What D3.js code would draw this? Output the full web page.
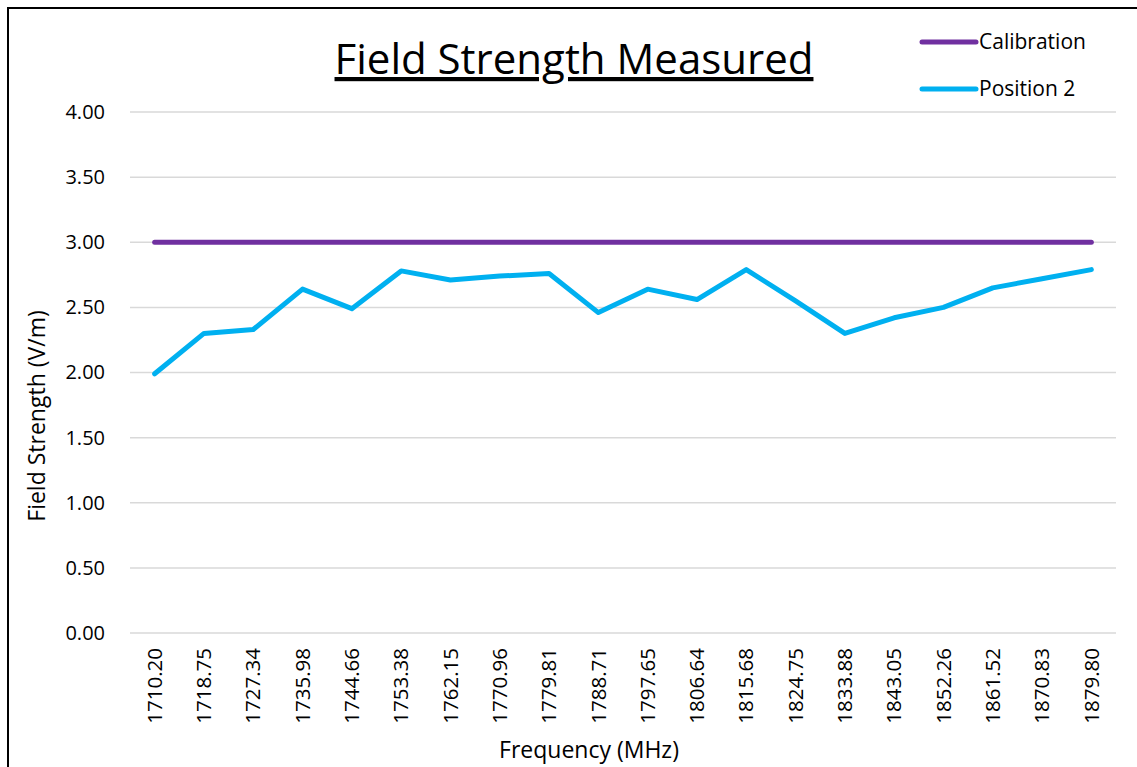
<!DOCTYPE html>
<html>
<head>
<meta charset="utf-8">
<script src="https://cdn.jsdelivr.net/npm/d3@7"></script>
<style>
  body { margin: 0; background: #fff; }
  text { font-family: "Open Sans", "Noto Sans", sans-serif; fill: #000; }
</style>
</head>
<body>
<div id="chart"></div>
<script>
// data
const frequencies = ["1710.20", "1718.75", "1727.34", "1735.98", "1744.66", "1753.38", "1762.15",
    "1770.96", "1779.81", "1788.71", "1797.65", "1806.64", "1815.68", "1824.75", "1833.88",
    "1843.05", "1852.26", "1861.52", "1870.83", "1879.80"];
const calibration = [3.00, 3.00, 3.00, 3.00, 3.00, 3.00, 3.00, 3.00, 3.00, 3.00,
    3.00, 3.00, 3.00, 3.00, 3.00, 3.00, 3.00, 3.00, 3.00, 3.00];
const position2 = [1.99, 2.30, 2.33, 2.64, 2.49, 2.78, 2.71, 2.74, 2.76, 2.46,
    2.64, 2.56, 2.79, 2.55, 2.30, 2.42, 2.50, 2.65, 2.72, 2.79];
const yTicks = [0, 0.5, 1, 1.5, 2, 2.5, 3, 3.5, 4];

const series = [
    { name: "Calibration", values: calibration, color: "#7030A0" },
    { name: "Position 2", values: position2, color: "#00B0F0" }
];

const width = 1137;
const height = 767;
const margin = { left: 130, right: 21, top: 112, bottom: 134 };

const svg = d3.select("#chart").append("svg")
    .attr("width", width)
    .attr("height", height);

// chart frame (runs past the right and bottom edge)
svg.append("rect")
    .attr("x", 8).attr("y", 8)
    .attr("width", 1150).attr("height", 780)
    .attr("fill", "none")
    .attr("stroke", "#000")
    .attr("stroke-width", 2);

const x = d3.scaleBand()
    .domain(frequencies)
    .range([margin.left, width - margin.right]);

const y = d3.scaleLinear()
    .domain([0, 4])
    .range([height - margin.bottom, margin.top]);

// gridlines
svg.append("g")
    .selectAll("line")
    .data(yTicks)
    .join("line")
    .attr("x1", margin.left)
    .attr("x2", width - margin.right)
    .attr("y1", d => y(d))
    .attr("y2", d => y(d))
    .attr("stroke", "#d9d9d9")
    .attr("stroke-width", 1.5);

// y axis labels
const yAxis = svg.append("g")
    .attr("transform", `translate(${margin.left - 22},0)`)
    .call(d3.axisLeft(y).tickValues(yTicks).tickFormat(d3.format(".2f")).tickSize(0));
yAxis.select(".domain").remove();
yAxis.selectAll("text")
    .attr("font-size", 20)
    .attr("font-family", "Open Sans, sans-serif")
    .attr("fill", "#000");

// x axis labels, rotated
const xAxis = svg.append("g")
    .attr("transform", `translate(0,${y(0)})`)
    .call(d3.axisBottom(x).tickSize(0));
xAxis.select(".domain").remove();
xAxis.selectAll("text")
    .attr("font-size", 20.5)
    .attr("font-family", "Open Sans, sans-serif")
    .attr("fill", "#000")
    .attr("transform", "rotate(-90)")
    .attr("text-anchor", "end")
    .attr("x", -15)
    .attr("y", 0)
    .attr("dy", "0.35em");

// lines
const line = d3.line()
    .x((d, i) => x(frequencies[i]) + x.bandwidth() / 2)
    .y(d => y(d));

svg.append("g")
    .selectAll("path")
    .data(series)
    .join("path")
    .attr("d", d => line(d.values))
    .attr("fill", "none")
    .attr("stroke", d => d.color)
    .attr("stroke-width", 5)
    .attr("stroke-linecap", "round")
    .attr("stroke-linejoin", "round");

// title
svg.append("text")
    .attr("x", 574)
    .attr("y", 74)
    .attr("text-anchor", "middle")
    .attr("font-size", 42)
    .attr("text-decoration", "underline")
    .text("Field Strength Measured");

// axis titles
svg.append("text")
    .attr("x", 589)
    .attr("y", 758)
    .attr("text-anchor", "middle")
    .attr("font-size", 23)
    .text("Frequency (MHz)");

svg.append("text")
    .attr("transform", "translate(45,416) rotate(-90)")
    .attr("text-anchor", "middle")
    .attr("font-size", 23)
    .text("Field Strength (V/m)");

// legend
const legend = svg.append("g")
    .selectAll("g")
    .data(series)
    .join("g")
    .attr("transform", (d, i) => `translate(922,${42 + i * 47})`);

legend.append("line")
    .attr("x1", 0).attr("x2", 54)
    .attr("stroke", d => d.color)
    .attr("stroke-width", 5)
    .attr("stroke-linecap", "round");

legend.append("text")
    .attr("x", 57)
    .attr("dy", "0.35em")
    .attr("font-size", 21)
    .text(d => d.name);
</script>
</body>
</html>
